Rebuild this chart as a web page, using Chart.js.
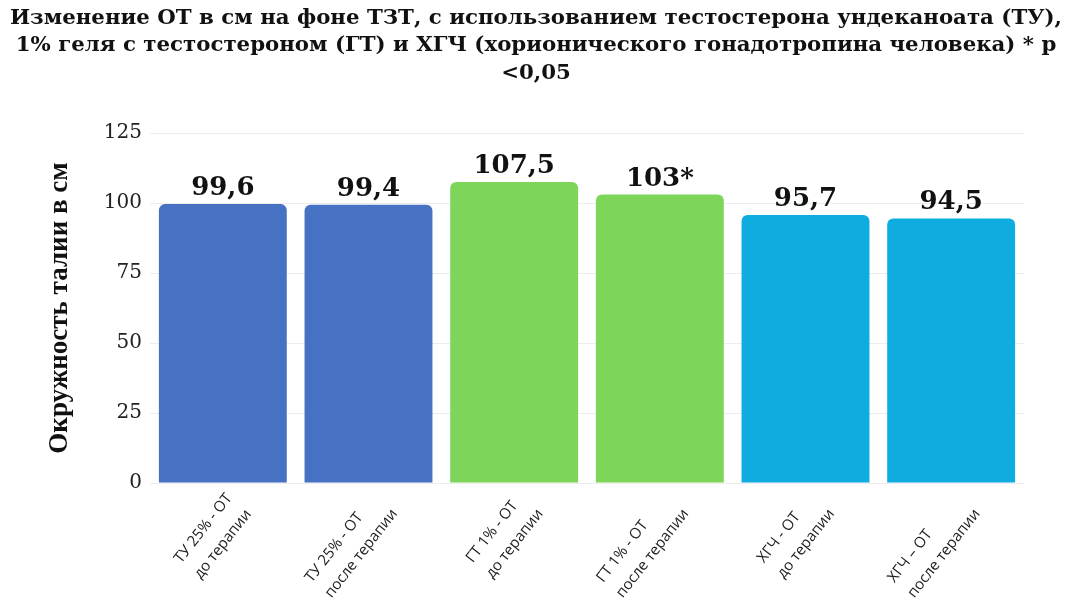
<!DOCTYPE html>
<html>
<head>
<meta charset="utf-8">
<script src="https://cdn.jsdelivr.net/npm/chart.js@4.4.1/dist/chart.umd.min.js"></script>
<style>
  html, body { margin: 0; padding: 0; background: #fff; }
  #wrap { width: 1072px; height: 610px; }
</style>
</head>
<body>
<div id="wrap"><canvas id="myChart" width="1072" height="610"></canvas></div>
<script>
// data
let categories = [
    ["ТУ 25% - ОТ", "до терапии"],
    ["ТУ 25% - ОТ", "после терапии"],
    ["ГТ 1% - ОТ", "до терапии"],
    ["ГТ 1% - ОТ", "после терапии"],
    ["ХГЧ - ОТ", "до терапии"],
    ["ХГЧ – ОТ", "после терапии"]
];
let values = [99.6, 99.4, 107.5, 103, 95.7, 94.5];
let valueLabels = ["99,6", "99,4", "107,5", "103*", "95,7", "94,5"];
let barColors = ["#4771c2", "#4771c2", "#7dd65a", "#7dd65a", "#0eacdf", "#0eacdf"];
let yTicks = [0, 25, 50, 75, 100, 125];
let titleLines = [
    "Изменение ОТ в см на фоне ТЗТ, с использованием тестостерона ундеканоата (ТУ),",
    "1% геля с тестостероном (ГТ) и ХГЧ (хорионического гонадотропина человека) * р",
    "<0,05"
];

// title drawn over the full width of the canvas
const wideTitle = {
    id: "wideTitle",
    afterDraw(chart) {
        let ctx = chart.ctx;
        ctx.save();
        ctx.font = "bold 21.3px 'DejaVu Serif'";
        ctx.fillStyle = "#111";
        ctx.textAlign = "center";
        ctx.textBaseline = "middle";
        titleLines.forEach((t, k) => {
            ctx.fillText(t, chart.width / 2, 18 + k * 27.5, 1058);
        });
        ctx.restore();
    }
};

// value labels above the bars
const barLabels = {
    id: "barLabels",
    afterDatasetsDraw(chart) {
        let ctx = chart.ctx;
        let meta = chart.getDatasetMeta(0);
        ctx.save();
        ctx.font = "bold 26px 'DejaVu Serif'";
        ctx.fillStyle = "#111";
        ctx.textAlign = "center";
        ctx.textBaseline = "alphabetic";
        meta.data.forEach((bar, i) => {
            ctx.fillText(valueLabels[i], bar.x, bar.y - 9);
        });
        ctx.restore();
    }
};

// slanted category names, lines left-aligned like in the original
const slantLabels = {
    id: "slantLabels",
    afterDraw(chart) {
        let ctx = chart.ctx;
        let xScale = chart.scales.x;
        let top = chart.chartArea.bottom;
        ctx.save();
        ctx.font = "15px 'Open Sans'";
        ctx.fillStyle = "#222";
        ctx.textBaseline = "middle";
        ctx.textAlign = "left";
        categories.forEach((lines, i) => {
            let x = xScale.getPixelForTick(i) + 26;
            let widest = Math.max(...lines.map(t => ctx.measureText(t).width));
            ctx.save();
            ctx.translate(x, top + 28);
            ctx.rotate(-52 * Math.PI / 180);
            lines.forEach((t, k) => {
                ctx.fillText(t, -widest, (k - lines.length + 1) * 25);
            });
            ctx.restore();
        });
        ctx.restore();
    }
};

var ctx = document.getElementById("myChart");
var myChart = new Chart(ctx, {
    type: "bar",
    data: {
        labels: categories,
        datasets: [{
            data: values,
            backgroundColor: barColors,
            borderRadius: 6,
            barPercentage: 0.878,
            categoryPercentage: 1
        }]
    },
    options: {
        responsive: false,
        animation: false,
        layout: {
            padding: { left: 40, right: 48, top: 133, bottom: 0 }
        },
        plugins: {
            legend: { display: false },
            tooltip: { enabled: false },
            title: { display: false }
        },
        scales: {
            x: {
                grid: { display: false },
                border: { display: false },
                ticks: { display: false },
                afterFit(scale) { scale.height = 127; }
            },
            y: {
                min: 0,
                max: 125,
                afterBuildTicks(scale) {
                    scale.ticks = yTicks.map(v => ({ value: v }));
                },
                grid: { color: "#ececec", drawTicks: false },
                border: { display: false },
                ticks: {
                    color: "#222",
                    font: { family: "'DejaVu Serif'", size: 20 },
                    padding: 8
                },
                title: {
                    display: true,
                    text: "Окружность талии в см",
                    color: "#111",
                    font: { family: "'Liberation Serif'", size: 27, weight: "bold" },
                    padding: 4
                },
                afterFit(scale) { scale.width = 110; }
            }
        }
    },
    plugins: [barLabels, slantLabels, wideTitle]
});
</script>
</body>
</html>
